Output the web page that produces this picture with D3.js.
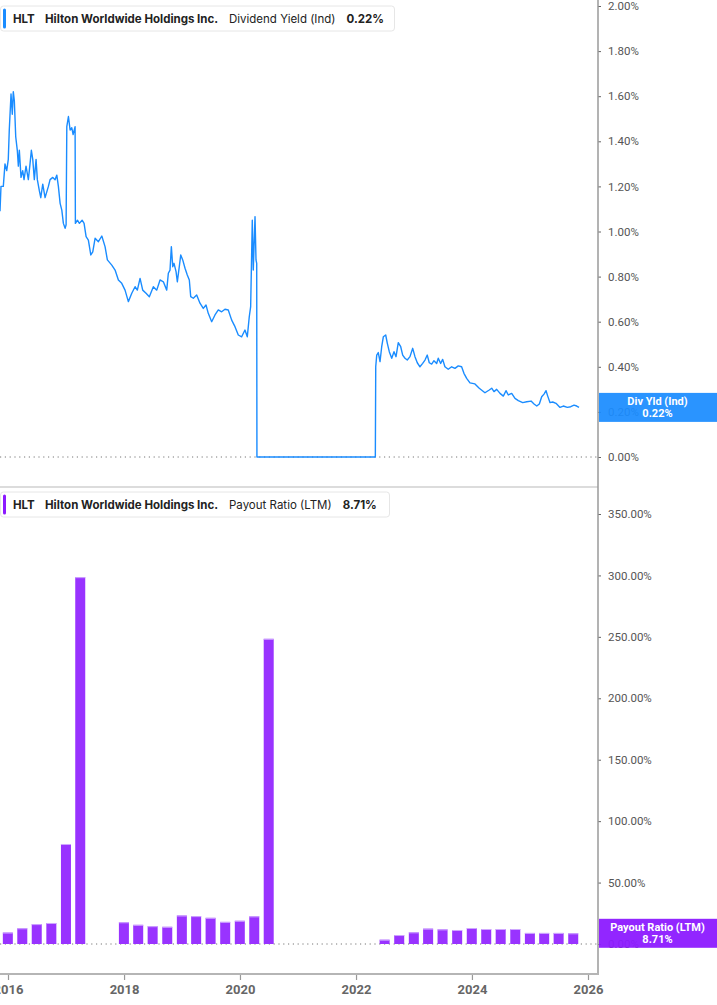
<!DOCTYPE html>
<html>
<head>
<meta charset="utf-8">
<script src="https://cdn.jsdelivr.net/npm/d3@7"></script>
<style>
  html, body { margin: 0; padding: 0; background: #fff; }
  svg { display: block; }
</style>
</head>
<body>
<div id="chart"></div>
<script>
// Dividend yield (Ind), % — dates as decimal years
const yieldDates = [
  2015.862, 2015.879, 2015.919, 2015.948, 2015.978, 2016.005, 2016.022, 2016.052, 2016.074, 2016.091,
  2016.109, 2016.133, 2016.160, 2016.178, 2016.195, 2016.224, 2016.253, 2016.276, 2016.310, 2016.350,
  2016.379, 2016.402, 2016.426, 2016.453, 2016.483, 2016.505, 2016.540, 2016.564, 2016.598, 2016.638,
  2016.695, 2016.724, 2016.771, 2016.810, 2016.840, 2016.867, 2016.897, 2016.926, 2016.953, 2016.983,
  2017.000, 2017.012, 2017.040, 2017.069, 2017.098, 2017.121, 2017.155, 2017.160, 2017.195, 2017.229,
  2017.276, 2017.310, 2017.345, 2017.384, 2017.426, 2017.460, 2017.500, 2017.557, 2017.616, 2017.672,
  2017.712, 2017.788, 2017.845, 2017.902, 2017.960, 2018.017, 2018.074, 2018.133, 2018.190, 2018.229,
  2018.276, 2018.322, 2018.379, 2018.436, 2018.505, 2018.564, 2018.621, 2018.678, 2018.736, 2018.764,
  2018.793, 2018.816, 2018.840, 2018.862, 2018.897, 2018.919, 2018.953, 2018.978, 2019.012, 2019.052,
  2019.091, 2019.126, 2019.150, 2019.195, 2019.253, 2019.310, 2019.367, 2019.414, 2019.453, 2019.512,
  2019.569, 2019.626, 2019.684, 2019.741, 2019.798, 2019.857, 2019.914, 2019.971, 2020.029, 2020.086,
  2020.126, 2020.160, 2020.184, 2020.212, 2020.229, 2020.259, 2020.276, 2020.288, 2020.292, 2022.333,
  2022.340, 2022.357, 2022.384, 2022.414, 2022.443, 2022.471, 2022.512, 2022.540, 2022.574, 2022.616,
  2022.655, 2022.690, 2022.729, 2022.771, 2022.805, 2022.845, 2022.884, 2022.931, 2022.978, 2023.017,
  2023.057, 2023.103, 2023.150, 2023.190, 2023.229, 2023.264, 2023.305, 2023.345, 2023.391, 2023.419,
  2023.460, 2023.495, 2023.534, 2023.591, 2023.650, 2023.707, 2023.764, 2023.822, 2023.862, 2023.909,
  2023.966, 2024.052, 2024.126, 2024.224, 2024.298, 2024.340, 2024.379, 2024.426, 2024.483, 2024.540,
  2024.586, 2024.626, 2024.684, 2024.741, 2024.798, 2024.874, 2024.943, 2025.017, 2025.069, 2025.116,
  2025.160, 2025.201, 2025.241, 2025.276, 2025.305, 2025.345, 2025.391, 2025.448, 2025.517, 2025.574,
  2025.643, 2025.702, 2025.759, 2025.805, 2025.845
];
const yieldValues = [
  1.09, 1.20, 1.20, 1.30, 1.27, 1.32, 1.45, 1.61, 1.52, 1.62,
  1.58, 1.42, 1.36, 1.29, 1.36, 1.24, 1.27, 1.23, 1.29, 1.23,
  1.30, 1.36, 1.32, 1.23, 1.32, 1.23, 1.18, 1.15, 1.21, 1.15,
  1.20, 1.23, 1.24, 1.23, 1.25, 1.20, 1.125, 1.095, 1.036, 1.014,
  1.03, 1.465, 1.51, 1.45, 1.46, 1.43, 1.465, 1.036, 1.05, 1.036,
  1.05, 1.036, 0.977, 0.962, 0.896, 0.91, 0.97, 0.955, 0.98, 0.933,
  0.874, 0.851, 0.829, 0.785, 0.77, 0.74, 0.689, 0.726, 0.755, 0.74,
  0.792, 0.74, 0.726, 0.711, 0.755, 0.74, 0.785, 0.777, 0.74, 0.815,
  0.829, 0.933, 0.844, 0.859, 0.822, 0.777, 0.844, 0.896, 0.874, 0.837,
  0.807, 0.785, 0.711, 0.704, 0.718, 0.682, 0.659, 0.674, 0.637, 0.60,
  0.63, 0.652, 0.644, 0.655, 0.652, 0.607, 0.578, 0.541, 0.533, 0.563,
  0.533, 0.622, 0.667, 1.05, 0.829, 1.066, 0.874, 0.859, 0, 0,
  0.40, 0.452, 0.463, 0.423, 0.489, 0.533, 0.541, 0.504, 0.467, 0.438,
  0.467, 0.445, 0.507, 0.489, 0.452, 0.438, 0.43, 0.445, 0.482, 0.445,
  0.418, 0.40, 0.415, 0.43, 0.452, 0.418, 0.412, 0.427, 0.415, 0.438,
  0.415, 0.433, 0.40, 0.389, 0.40, 0.393, 0.404, 0.40, 0.371, 0.349,
  0.329, 0.324, 0.305, 0.285, 0.297, 0.305, 0.29, 0.30, 0.282, 0.27,
  0.294, 0.275, 0.282, 0.26, 0.25, 0.241, 0.245, 0.248, 0.235, 0.226,
  0.235, 0.267, 0.279, 0.294, 0.27, 0.241, 0.244, 0.238, 0.22, 0.226,
  0.22, 0.223, 0.23, 0.226, 0.22
];

// Payout ratio (LTM), % — quarterly
const payoutQuarters = [
  "2015-12-31", "2016-03-31", "2016-06-30", "2016-09-30", "2016-12-31", "2017-03-31",
  "2017-12-31", "2018-03-31", "2018-06-30", "2018-09-30", "2018-12-31", "2019-03-31",
  "2019-06-30", "2019-09-30", "2019-12-31", "2020-03-31", "2020-06-30",
  "2022-06-30", "2022-09-30", "2022-12-31", "2023-03-31", "2023-06-30", "2023-09-30",
  "2023-12-31", "2024-03-31", "2024-06-30", "2024-09-30", "2024-12-31", "2025-03-31",
  "2025-06-30", "2025-09-30"
];
const payoutValues = [
  9.3, 12.8, 16.2, 17.1, 81.4, 298.6,
  17.7, 15.6, 14.5, 14.0, 23.2, 22.7,
  21.3, 18.0, 18.9, 22.5, 248.4,
  3.5, 7.3, 9.5, 12.5, 11.9, 11.4,
  13.0, 12.2, 12.2, 12.2, 9.0, 9.0,
  9.0, 8.71
];

const yieldTicks = [0, 0.2, 0.4, 0.6, 0.8, 1.0, 1.2, 1.4, 1.6, 1.8, 2.0];
const payoutTicks = [0, 50, 100, 150, 200, 250, 300, 350];
const yearTicks = [2016, 2018, 2020, 2022, 2024, 2026];

const ticker = "HLT";
const company = "Hilton Worldwide Holdings Inc.";
const yieldName = "Dividend Yield (Ind)";
const yieldLast = "0.22%";
const payoutName = "Payout Ratio (LTM)";
const payoutLast = "8.71%";

const W = 717, H = 1005;
const plotRight = 598;
const blue = "#1a8cff";
const purple = "#9933ff";

const svg = d3.select("#chart").append("svg")
  .attr("width", W)
  .attr("height", H)
  .style("font-family", "Inter, Roboto, 'DejaVu Sans', sans-serif");

const fromDecimal = t => {
  const yr = Math.floor(t);
  const a = new Date(yr, 0, 1), b = new Date(yr + 1, 0, 1);
  return new Date(+a + (t - yr) * (b - a));
};
const parseDay = d3.timeParse("%Y-%m-%d");

const x = d3.scaleTime()
  .domain([new Date(2016, 0, 1), new Date(2026, 0, 1)])
  .range([8, 588]);

const yTop = d3.scaleLinear().domain([0, 2]).range([457, 6]);
const yBot = d3.scaleLinear().domain([0, 350]).range([944, 514]);

svg.append("clipPath").attr("id", "plotclip")
  .append("rect").attr("x", 0).attr("y", 0).attr("width", plotRight).attr("height", H);

// panel separator
svg.append("line")
  .attr("x1", 0).attr("x2", plotRight)
  .attr("y1", 487).attr("y2", 487)
  .attr("stroke", "#dcdcdc").attr("stroke-width", 2);

// dotted zero lines
[[yTop, 0], [yBot, 0]].forEach(([s, v]) => {
  svg.append("line")
    .attr("x1", 0).attr("x2", plotRight)
    .attr("y1", s(v)).attr("y2", s(v))
    .attr("stroke", "#777").attr("stroke-width", 1)
    .attr("stroke-dasharray", "1.2,3.6");
});

// ---- top panel: dividend yield line
const yieldData = yieldDates.map((t, i) => ({ date: fromDecimal(t), value: yieldValues[i] }));

svg.append("path")
  .datum(yieldData)
  .attr("clip-path", "url(#plotclip)")
  .attr("fill", "none")
  .attr("stroke", blue)
  .attr("stroke-width", 1.4)
  .attr("stroke-linejoin", "round")
  .attr("d", d3.line().x(d => x(d.date)).y(d => yTop(d.value)));

// ---- bottom panel: payout ratio bars
const payoutData = payoutQuarters.map((q, i) => ({ date: parseDay(q), value: payoutValues[i] }));
const barW = 10;

const bars = svg.append("g").attr("clip-path", "url(#plotclip)");
bars.selectAll("rect.bar")
  .data(payoutData)
  .enter()
  .append("rect")
  .attr("class", "bar")
  .attr("x", d => x(d.date) - barW / 2)
  .attr("y", d => yBot(d.value))
  .attr("width", barW)
  .attr("height", d => yBot(0) - yBot(d.value))
  .attr("fill", purple);

bars.selectAll("line.cap")
  .data(payoutData)
  .enter()
  .append("line")
  .attr("class", "cap")
  .attr("x1", d => x(d.date) - barW / 2)
  .attr("x2", d => x(d.date) + barW / 2)
  .attr("y1", d => yBot(d.value) + 0.5)
  .attr("y2", d => yBot(d.value) + 0.5)
  .attr("stroke", "#cfa8ff")
  .attr("stroke-width", 1);

// ---- right axes
const rightAxis = (scale, ticks, fmt) => {
  const g = svg.append("g")
    .attr("transform", `translate(${plotRight},0)`)
    .call(d3.axisRight(scale).tickValues(ticks).tickFormat(fmt).tickSize(3).tickPadding(7));
  g.select(".domain").remove();
  g.selectAll(".tick line").attr("stroke", "#666");
  g.selectAll(".tick text")
    .attr("fill", "#555")
    .style("font-family", "Roboto, sans-serif")
    .style("font-size", "11.5px");
  return g;
};
rightAxis(yTop, yieldTicks, d => d3.format(".2f")(d) + "%");
rightAxis(yBot, payoutTicks, d => d3.format(".2f")(d) + "%");

svg.append("line")
  .attr("x1", plotRight).attr("x2", plotRight)
  .attr("y1", 0).attr("y2", 975)
  .attr("stroke", "#9a9a9a").attr("stroke-width", 1.5);

// ---- bottom time axis
const xAxis = svg.append("g")
  .attr("transform", "translate(0,974)")
  .call(d3.axisBottom(x)
    .tickValues(yearTicks.map(y => new Date(y, 0, 1)))
    .tickFormat(d3.timeFormat("%Y"))
    .tickSize(6)
    .tickPadding(5));
xAxis.select(".domain").remove();
xAxis.selectAll(".tick line").attr("stroke", "#999").attr("stroke-width", 1.2);
xAxis.selectAll(".tick text")
  .attr("fill", "#666")
  .style("font-family", "Roboto, sans-serif")
  .style("font-weight", "bold")
  .style("font-size", "13px");

svg.append("line")
  .attr("x1", 0).attr("x2", plotRight + 1)
  .attr("y1", 974).attr("y2", 974)
  .attr("stroke", "#b5b5b5").attr("stroke-width", 2);

// ---- last value boxes
const valueBox = (yPos, color, line1, line2, opacity) => {
  const g = svg.append("g").attr("transform", `translate(${plotRight + 1},${yPos})`);
  g.append("rect")
    .attr("x", 0).attr("y", -14.5)
    .attr("width", W - plotRight).attr("height", 29)
    .attr("fill", color).attr("fill-opacity", opacity);
  const t = g.append("text")
    .attr("x", (W - plotRight) / 2 - 1)
    .attr("text-anchor", "middle")
    .attr("fill", "#fff")
    .style("font-family", "Roboto, sans-serif")
    .style("font-weight", "bold")
    .style("font-size", "11px");
  t.append("tspan").attr("x", (W - plotRight) / 2 - 1).attr("y", -2.5).text(line1);
  t.append("tspan").attr("x", (W - plotRight) / 2 - 1).attr("y", 9.5).text(line2);
};
valueBox(yTop(0.22), blue, "Div Yld (Ind)", yieldLast, 0.93);
valueBox(yBot(8.71), "#8c1aff", payoutName, payoutLast, 0.95);

// ---- legends
const legend = (yPos, w, color, name, last) => {
  const g = svg.append("g").attr("transform", `translate(0,${yPos})`);
  g.append("rect")
    .attr("x", 0.5).attr("y", 0.5)
    .attr("width", w).attr("height", 25)
    .attr("rx", 3)
    .attr("fill", "#fff").attr("stroke", "#e6e6e6");
  g.append("rect")
    .attr("x", 3).attr("y", 3)
    .attr("width", 3).attr("height", 20)
    .attr("rx", 1.5)
    .attr("fill", color);
  const t = g.append("text")
    .attr("x", 13).attr("y", 17)
    .attr("fill", "#222")
    .style("font-size", "11.5px");
  t.append("tspan").style("font-weight", "bold").text(ticker);
  t.append("tspan").attr("x", 45).style("font-weight", "bold").text(company);
  t.append("tspan").attr("x", 229).style("font-weight", "normal").text(name);
  t.append("tspan").attr("dx", 11).style("font-weight", "bold").text(last);
};
legend(5.5, 394, blue, yieldName, yieldLast);
legend(491.5, 389, "#8c1aff", payoutName, payoutLast);
</script>
</body>
</html>
